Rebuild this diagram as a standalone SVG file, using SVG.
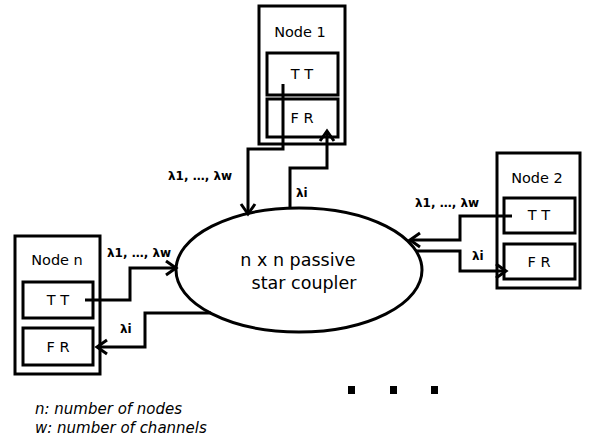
<svg xmlns="http://www.w3.org/2000/svg" width="591" height="441" viewBox="0 0 591 441">
<defs>
<style>
.box{fill:none;stroke:#000;stroke-width:3}
.t{font-family:"DejaVu Sans",sans-serif;font-size:14.5px;fill:#000;text-anchor:middle}
.lab{font-family:"DejaVu Sans",sans-serif;font-size:12px;font-weight:bold;fill:#000}
.leg{font-family:"DejaVu Sans",sans-serif;font-size:15px;font-style:italic;fill:#000}
.c{fill:none;stroke:#000;stroke-width:3;marker-end:url(#arr)}
</style>
<marker id="arr" markerUnits="userSpaceOnUse" markerWidth="20" markerHeight="20" refX="0" refY="0" viewBox="-12 -10 14 20" orient="auto">
<path d="M-10,-7 L0,0 L-10,7" fill="none" stroke="#000" stroke-width="3"/>
</marker>
</defs>
<rect width="591" height="441" fill="#fff"/>
<g id="coupler">
<ellipse cx="299" cy="270" rx="123" ry="62" fill="#fff" stroke="#000" stroke-width="3"/>
<text class="t" x="298" y="266" style="font-size:17.5px">n x n passive</text>
<text class="t" x="304" y="289" style="font-size:17.5px">star coupler</text>
</g>
<g id="node1">
<rect class="box" x="259" y="6" width="86" height="138"/>
<text class="t" x="300" y="37">Node 1</text>
<rect class="box" x="267" y="53" width="71" height="42"/>
<text class="t" x="302" y="79">T T</text>
<rect class="box" x="267" y="99" width="71" height="38"/>
<text class="t" x="302" y="123">F R</text>
</g>
<g id="node2">
<rect class="box" x="497" y="153" width="83" height="135"/>
<text class="t" x="537" y="183">Node 2</text>
<rect class="box" x="504" y="198" width="71" height="35"/>
<text class="t" x="539" y="220">T T</text>
<rect class="box" x="504" y="244" width="71" height="35"/>
<text class="t" x="539" y="267">F R</text>
</g>
<g id="nodeN">
<rect class="box" x="15" y="236" width="85" height="138"/>
<text class="t" x="57" y="265">Node n</text>
<rect class="box" x="23" y="282" width="70" height="36"/>
<text class="t" x="58" y="305">T T</text>
<rect class="box" x="23" y="328" width="70" height="37"/>
<text class="t" x="58" y="352">F R</text>
</g>
<g id="connectors">
<path class="c" d="M283,84 V149 H248 V214"/>
<path class="c" d="M290,208 V168 H327 V131"/>
<path class="c" d="M512,216 H460 V240 H410"/>
<path class="c" d="M416,251 H460 V271 H506"/>
<path class="c" d="M85,300 H130 V268 H176"/>
<path class="c" d="M211,313 H145 V347 H97"/>
</g>
<g id="labels">
<text class="lab" x="168" y="180">λ1, …, λw</text>
<text class="lab" x="296" y="197">λi</text>
<text class="lab" x="415" y="207">λ1, …, λw</text>
<text class="lab" x="472" y="260">λi</text>
<text class="lab" x="107" y="257">λ1, …, λw</text>
<text class="lab" x="120" y="333">λi</text>
</g>
<g id="dots">
<rect x="348" y="386" width="7" height="8"/>
<rect x="390" y="386" width="7" height="8"/>
<rect x="431" y="386" width="7" height="8"/>
</g>
<g id="legend">
<text class="leg" x="35" y="414">n: number of nodes</text>
<text class="leg" x="35" y="433">w: number of channels</text>
</g>
</svg>
